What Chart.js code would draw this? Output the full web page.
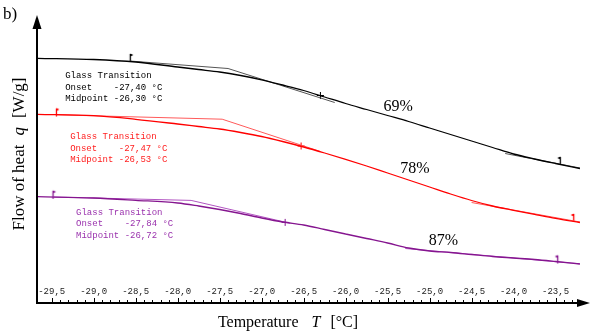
<!DOCTYPE html>
<html>
<head>
<meta charset="utf-8">
<script src="https://cdn.jsdelivr.net/npm/chart.js@4/dist/chart.umd.min.js"></script>
<style>
  html, body { margin: 0; padding: 0; background: #ffffff; }
  canvas { display: block; }
</style>
</head>
<body>
<canvas id="dsc" width="600" height="336"></canvas>
<script>
// DSC heat-flow traces, temperature in °C, heat flow in W/g (arbitrary offset per trace)
const temperatureC = [-29.67, -29.0, -28.5, -28.0, -27.75, -27.5, -27.25, -27.0, -26.75, -26.5, -26.25, -26.0, -25.75, -25.5, -25.25, -25.0, -24.75, -24.5, -24.25, -24.0, -23.75, -23.5, -23.21];
const flow69 = [2.447, 2.435, 2.41, 2.36, 2.335, 2.31, 2.275, 2.232, 2.18, 2.125, 2.06, 1.995, 1.935, 1.875, 1.815, 1.75, 1.685, 1.62, 1.555, 1.49, 1.44, 1.395, 1.345];
const flow78 = [1.887, 1.873, 1.837, 1.79, 1.765, 1.74, 1.705, 1.665, 1.615, 1.56, 1.50, 1.437, 1.37, 1.30, 1.23, 1.16, 1.09, 1.025, 0.97, 0.927, 0.886, 0.846, 0.805];
const flow87 = [1.063, 1.05, 1.027, 1.0, 0.97, 0.935, 0.895, 0.85, 0.81, 0.78, 0.735, 0.69, 0.645, 0.60, 0.55, 0.52, 0.505, 0.485, 0.465, 0.45, 0.435, 0.415, 0.39];

const seriesLabels = ['69%', '78%', '87%'];
const onsetC = [-27.40, -27.47, -27.84];
const midpointC = [-26.30, -26.53, -26.72];
const midpointQ = [2.075, 1.57, 0.806];

// Onset construction: pre-transition baseline -> onset -> inflection tangent
const tangentT = [[-28.57, -27.40, -26.13], [-29.45, -27.47, -26.30], [-29.49, -27.84, -26.66]];
const tangentQ = [[2.42, 2.345, 2.005], [1.882, 1.838, 1.515], [1.06, 1.026, 0.797]];
// Post-transition baseline segments
const postT = [[-24.10, -23.21], [-24.50, -23.21], [-25.29, -23.21]];
const postQ = [[1.495, 1.35], [1.005, 0.81], [0.545, 0.392]];
// Evaluation limits (start / end flags)
const flagStartT = [-28.57, -29.45, -29.49];
const flagStartQ = [2.43, 1.885, 1.062];
const flagEndT = [-23.45, -23.29, -23.48];
const flagEndQ = [1.40, 0.83, 0.415];

const tickValues = [-29.5, -29.0, -28.5, -28.0, -27.5, -27.0, -26.5, -26.0, -25.5, -25.0, -24.5, -24.0, -23.5];
const tickLabels = ['-29,5', '-29,0', '-28,5', '-28,0', '-27,5', '-27,0', '-26,5', '-26,0', '-25,5', '-25,0', '-24,5', '-24,0', '-23,5'];

// Styling
const curveColors = ['#000000', '#ff0000', '#85158f'];
const helperColors = ['#555555', '#ff5a5a', '#b255c2'];
const textColors = ['#000000', '#ff1f1f', '#9a32ad'];
const infoAnchorT = [-29.34, -29.28, -29.21];
const infoAnchorQ = [2.27, 1.663, 0.907];
const pctAnchorT = [-25.55, -25.35, -25.01];
const pctAnchorQ = [1.965, 1.34, 0.62];

const flows = [flow69, flow78, flow87];

function pts(ts, qs) { return ts.map((t, i) => ({ x: t, y: qs[i] })); }

function makeFlag(color, dir) {
  const c = document.createElement('canvas');
  c.width = 10; c.height = 16;
  const g = c.getContext('2d');
  g.strokeStyle = color; g.fillStyle = color; g.lineWidth = 1.3;
  g.beginPath(); g.moveTo(5.5, 2); g.lineTo(5.5, 10); g.stroke();
  g.beginPath(); g.moveTo(5.5, 1.5); g.lineTo(5.5 + 3 * dir, 3); g.lineTo(5.5, 4.5); g.closePath(); g.fill();
  return c;
}

const datasets = [];
for (let s = 0; s < 3; s++) {
  datasets.push({
    data: pts(temperatureC, flows[s]),
    borderColor: curveColors[s], borderWidth: 1.3,
    pointRadius: 0, cubicInterpolationMode: 'monotone', fill: false
  });
  datasets.push({
    data: pts(tangentT[s], tangentQ[s]),
    borderColor: helperColors[s], borderWidth: 1,
    pointRadius: 0, tension: 0, fill: false
  });
  datasets.push({
    data: pts(postT[s], postQ[s]),
    borderColor: helperColors[s], borderWidth: 1,
    pointRadius: 0, tension: 0, fill: false
  });
  datasets.push({
    data: [{ x: flagStartT[s], y: flagStartQ[s] }],
    showLine: false, pointStyle: makeFlag(curveColors[s], 1), pointRadius: 5
  });
  datasets.push({
    data: [{ x: flagEndT[s], y: flagEndQ[s] }],
    showLine: false, pointStyle: makeFlag(curveColors[s], -1), pointRadius: 5
  });
  datasets.push({
    data: [{ x: midpointC[s], y: midpointQ[s] }],
    showLine: false, pointStyle: 'cross', pointRadius: 3.5,
    borderColor: curveColors[s], borderWidth: 1
  });
}

const fmt = v => v.toFixed(2).replace('.', ',');

const decorations = {
  id: 'decorations',
  afterDatasetsDraw(chart) {
    const ctx = chart.ctx;
    const xs = chart.scales.x, ys = chart.scales.y;
    const a = chart.chartArea;
    ctx.save();

    // axes with arrow heads
    ctx.strokeStyle = '#000'; ctx.fillStyle = '#000'; ctx.lineWidth = 2;
    ctx.beginPath();
    ctx.moveTo(a.left, a.top + 10); ctx.lineTo(a.left, a.bottom);
    ctx.lineTo(a.right - 8, a.bottom);
    ctx.stroke();
    ctx.beginPath();
    ctx.moveTo(a.left, a.top); ctx.lineTo(a.left - 4.5, a.top + 14); ctx.lineTo(a.left + 4.5, a.top + 14); ctx.closePath(); ctx.fill();
    ctx.beginPath();
    ctx.moveTo(a.right, a.bottom); ctx.lineTo(a.right - 13, a.bottom - 4); ctx.lineTo(a.right - 13, a.bottom + 4); ctx.closePath(); ctx.fill();

    // tick marks (minor every 0.1 °C, major at labelled values)
    ctx.lineWidth = 1;
    const first = tickValues[0], last = tickValues[tickValues.length - 1];
    for (let i = 0; i <= Math.round((last - first) * 10) + 2; i++) {
      const v = first + i * 0.1;
      const px = Math.round(xs.getPixelForValue(v)) + 0.5;
      const major = i % 5 === 0;
      ctx.beginPath();
      ctx.moveTo(px, a.bottom - 1);
      ctx.lineTo(px, a.bottom - (major ? 5 : 3));
      ctx.stroke();
    }
    ctx.fillStyle = '#222';
    ctx.font = '9px "Liberation Mono", "DejaVu Sans Mono", monospace';
    ctx.textAlign = 'center'; ctx.textBaseline = 'middle';
    tickValues.forEach((v, i) => ctx.fillText(tickLabels[i], xs.getPixelForValue(v), a.bottom - 11));

    // glass transition readouts
    ctx.textAlign = 'left';
    for (let s = 0; s < 3; s++) {
      const x0 = xs.getPixelForValue(infoAnchorT[s]);
      const y0 = ys.getPixelForValue(infoAnchorQ[s]);
      ctx.fillStyle = textColors[s];
      ctx.fillText('Glass Transition', x0, y0);
      ctx.fillText('Onset    ' + fmt(onsetC[s]) + ' °C', x0, y0 + 11.5);
      ctx.fillText('Midpoint ' + fmt(midpointC[s]) + ' °C', x0, y0 + 23);
    }

    // series labels
    ctx.fillStyle = '#000';
    ctx.font = '16px "Liberation Serif", "Times New Roman", serif';
    for (let s = 0; s < 3; s++) {
      ctx.fillText(seriesLabels[s], xs.getPixelForValue(pctAnchorT[s]), ys.getPixelForValue(pctAnchorQ[s]));
    }

    // panel letter
    ctx.font = '17px "Liberation Serif", "Times New Roman", serif';
    ctx.textBaseline = 'alphabetic';
    ctx.fillText('b)', 3, 19);

    // axis titles
    function drawParts(parts, x, y) {
      let cx = x;
      parts.forEach(p => {
        ctx.font = p.f;
        ctx.fillText(p.t, cx, y);
        cx += ctx.measureText(p.t).width + (p.gap || 0);
      });
    }
    function partsWidth(parts) {
      let w = 0;
      parts.forEach(p => { ctx.font = p.f; w += ctx.measureText(p.t).width + (p.gap || 0); });
      return w;
    }
    const roman = '16px "Liberation Serif", "Times New Roman", serif';
    const italic = 'italic 16px "Liberation Serif", "Times New Roman", serif';
    const xTitle = [{ t: 'Temperature', f: roman, gap: 13 }, { t: 'T', f: italic, gap: 10 }, { t: '[°C]', f: roman }];
    const xw = partsWidth(xTitle);
    drawParts(xTitle, 288 - xw / 2, 327);

    const romanY = '17px "Liberation Serif", "Times New Roman", serif';
    const italicY = 'italic 17px "Liberation Serif", "Times New Roman", serif';
    const yTitle = [{ t: 'Flow of heat', f: romanY, gap: 9 }, { t: 'q', f: italicY, gap: 9 }, { t: '[W/g]', f: romanY }];
    const yw = partsWidth(yTitle);
    ctx.translate(24, 154 + yw / 2);
    ctx.rotate(-Math.PI / 2);
    drawParts(yTitle, 0, 0);
    ctx.restore();
  }
};

new Chart(document.getElementById('dsc'), {
  type: 'line',
  data: { datasets },
  options: {
    responsive: false,
    devicePixelRatio: 1,
    animation: false,
    events: [],
    layout: { padding: { left: 37, right: 10, top: 15, bottom: 33 } },
    plugins: { legend: { display: false }, tooltip: { enabled: false } },
    scales: {
      x: { type: 'linear', min: -29.675, max: -23.09, display: false },
      y: { type: 'linear', min: 0, max: 2.88, display: false }
    }
  },
  plugins: [decorations]
});
</script>
</body>
</html>
